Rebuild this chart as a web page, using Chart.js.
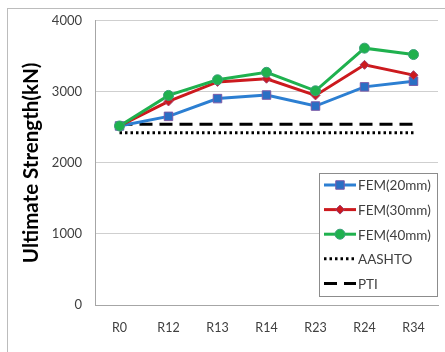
<!DOCTYPE html>
<html>
<head>
<meta charset="utf-8">
<script src="https://cdn.jsdelivr.net/npm/chart.js@4.4.0/dist/chart.umd.min.js"></script>
<style>
  html, body { margin: 0; padding: 0; background: #fff; }
  #wrap { position: relative; width: 445px; height: 352px; overflow: hidden; }
  #frame { position: absolute; left: 7px; top: 8px; width: 460px; height: 360px;
           border: 1px solid #bcbcbc; box-sizing: border-box; }
  canvas { position: absolute; left: 0; top: 0; }
</style>
</head>
<body>
<div id="wrap">
  <div id="frame"></div>
  <canvas id="strengthChart" width="445" height="352"></canvas>
</div>
<script>
// Ultimate strength by configuration
const categories = ['R0', 'R12', 'R13', 'R14', 'R23', 'R24', 'R34'];
const fem20 = [2520, 2655, 2905, 2955, 2800, 3070, 3150];
const fem30 = [2520, 2865, 3140, 3185, 2950, 3380, 3235];
const fem40 = [2520, 2950, 3170, 3275, 3015, 3615, 3525];
const aashto = [2425, 2425, 2425, 2425, 2425, 2425, 2425];
const pti = [2545, 2545, 2545, 2545, 2545, 2545, 2545];
const yTicks = [0, 1000, 2000, 3000, 4000];

const FONT = 'Lato, "Liberation Sans", sans-serif';

// legend box like the spreadsheet one: line sample with its marker in the middle
const boxLegend = {
    id: 'boxLegend',
    afterDraw(chart) {
        const ctx = chart.ctx;
        const x0 = 319, y0 = 173, w = 118, h = 123;
        ctx.save();
        ctx.fillStyle = '#fff';
        ctx.fillRect(x0, y0, w, h);
        ctx.strokeStyle = '#8c8c8c';
        ctx.lineWidth = 1;
        ctx.strokeRect(x0 + 0.5, y0 + 0.5, w, h);
        chart.data.datasets.forEach((ds, i) => {
            const cy = y0 + 12 + i * 24.6;
            ctx.save();
            ctx.strokeStyle = ds.borderColor;
            ctx.lineWidth = ds.borderWidth;
            ctx.setLineDash(ds.borderDash || []);
            ctx.beginPath();
            ctx.moveTo(324, cy);
            ctx.lineTo(356, cy);
            ctx.stroke();
            ctx.restore();
            if (ds.pointRadius > 0) {
                ctx.save();
                ctx.fillStyle = ds.pointBackgroundColor;
                ctx.strokeStyle = ds.pointBorderColor;
                ctx.lineWidth = ds.pointBorderWidth;
                Chart.helpers.drawPoint(ctx, {
                    pointStyle: ds.pointStyle,
                    radius: ds.pointRadius,
                    borderWidth: ds.pointBorderWidth
                }, 340, cy);
                ctx.restore();
            }
            ctx.fillStyle = '#404040';
            ctx.font = '13.5px ' + FONT;
            ctx.textBaseline = 'middle';
            ctx.textAlign = 'left';
            ctx.fillText(ds.label, 358, cy + 1);
        });
        ctx.restore();
    }
};

const ctx = document.getElementById('strengthChart').getContext('2d');
new Chart(ctx, {
    type: 'line',
    data: {
        labels: categories,
        datasets: [{
            label: 'FEM(20mm)',
            data: fem20,
            borderColor: '#2c7fd2',
            borderWidth: 3,
            pointStyle: 'rect',
            pointRadius: 6,
            pointBackgroundColor: '#2a6fc4',
            pointBorderColor: '#7a5aa8',
            pointBorderWidth: 1,
            tension: 0,
            order: 2
        }, {
            label: 'FEM(30mm)',
            data: fem30,
            borderColor: '#cc1a1e',
            borderWidth: 3,
            pointStyle: 'rectRot',
            pointRadius: 4.5,
            pointBackgroundColor: '#cc1a1e',
            pointBorderColor: '#a04070',
            pointBorderWidth: 1,
            tension: 0,
            order: 1
        }, {
            label: 'FEM(40mm)',
            data: fem40,
            borderColor: '#1fb14e',
            borderWidth: 3,
            pointStyle: 'circle',
            pointRadius: 5,
            pointBackgroundColor: '#1fb14e',
            pointBorderColor: '#3aa07a',
            pointBorderWidth: 1,
            tension: 0,
            order: 0
        }, {
            label: 'AASHTO',
            data: aashto,
            borderColor: '#000',
            borderWidth: 3,
            borderDash: [2.5, 3],
            pointRadius: 0,
            tension: 0,
            order: 4
        }, {
            label: 'PTI',
            data: pti,
            borderColor: '#000',
            borderWidth: 3,
            borderDash: [13, 7],
            pointRadius: 0,
            tension: 0,
            order: 3
        }]
    },
    options: {
        responsive: false,
        animation: false,
        layout: { padding: { left: 15, right: 6, top: 19, bottom: 0 } },
        plugins: {
            legend: { display: false },
            tooltip: { enabled: false }
        },
        scales: {
            x: {
                offset: true,
                grid: { display: false, drawTicks: false },
                border: { color: '#a6a6a6' },
                ticks: { color: '#404040', font: { family: FONT, size: 12.5 }, padding: 15 },
                afterFit(scale) { scale.height = 47; }
            },
            y: {
                min: 0,
                max: 4000,
                afterBuildTicks(scale) { scale.ticks = yTicks.map(v => ({ value: v })); },
                grid: { color: '#cfcfcf', drawTicks: false },
                border: { color: '#a6a6a6' },
                ticks: {
                    color: '#404040',
                    font: { family: FONT, size: 13 },
                    padding: 13,
                    callback: v => String(v)
                },
                title: {
                    display: true,
                    text: 'Ultimate Strength(kN)',
                    color: '#000',
                    font: { family: FONT, size: 20.5, weight: 'bold' },
                    padding: { top: 4, bottom: 0 }
                },
                afterFit(scale) { scale.width = 80; }
            }
        }
    },
    plugins: [boxLegend]
});
</script>
</body>
</html>
